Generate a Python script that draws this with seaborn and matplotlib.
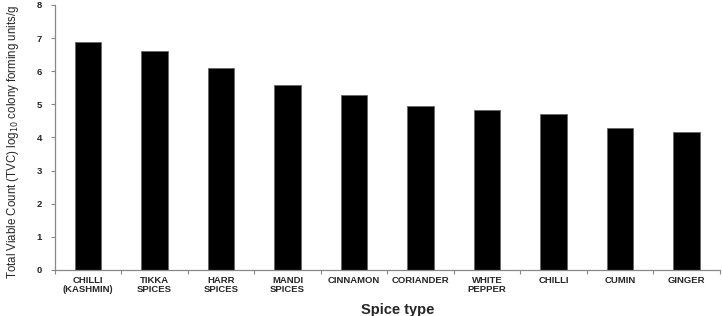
import matplotlib
matplotlib.use("Agg")
import matplotlib.pyplot as plt
import seaborn as sns
import pandas as pd
import numpy as np
from matplotlib.ticker import FixedLocator

categories = ["CHILLI\n(KASHMIN)", "TIKKA\nSPICES", "HARR\nSPICES", "MANDI\nSPICES",
              "CINNAMON", "CORIANDER", "WHITE\nPEPPER", "CHILLI", "CUMIN", "GINGER"]
values = [6.88, 6.62, 6.09, 5.59, 5.29, 4.95, 4.84, 4.72, 4.28, 4.18]
y_ticks = [0, 1, 2, 3, 4, 5, 6, 7, 8]

sns.set_style("white")
plt.rcParams['font.family'] = ['Liberation Sans', 'DejaVu Sans']

df = pd.DataFrame({"cat": categories, "val": values})

fig = plt.figure(figsize=(7.22, 3.16), dpi=100)
ax = fig.add_axes([0.0758, 0.1456, 0.9212, 0.8386])

sns.barplot(data=df, x="cat", y="val", color="black", width=0.4,
            edgecolor="#666666", linewidth=0.6, saturation=1, ax=ax)

ax.set_ylim(0, 8)
ax.set_xlim(-0.5, len(categories) - 0.5)
ax.set_yticks(y_ticks)
ax.set_yticklabels([str(t) for t in y_ticks], fontsize=6.8, fontweight="bold")

ax.set_xticks(range(len(categories)))
ax.set_xticklabels(categories, fontsize=6.8, fontweight="bold", linespacing=1.0)
ax.tick_params(axis="x", which="major", length=0, pad=4)
ax.xaxis.set_minor_locator(FixedLocator(np.arange(-0.5, len(categories), 1.0)))
ax.tick_params(axis="x", which="minor", length=3, width=0.8, color="#888888", direction="out", bottom=True)
ax.tick_params(axis="y", length=3, width=0.8, color="#888888", direction="out", left=True, pad=6)

for s in ["top", "right"]:
    ax.spines[s].set_visible(False)
for s in ["left", "bottom"]:
    ax.spines[s].set_color("#888888")
    ax.spines[s].set_linewidth(0.9)

ax.set_xlabel("Spice type", fontsize=10.5, fontweight="bold")
ax.xaxis.set_label_coords(0.515, -0.125)
ax.set_ylabel("Total Viable Count (TVC) log$_{10}$ colony forming units/g", fontsize=8.3)
ax.yaxis.set_label_coords(-0.05, 0.485)

fig.savefig("out.png", dpi=100)
